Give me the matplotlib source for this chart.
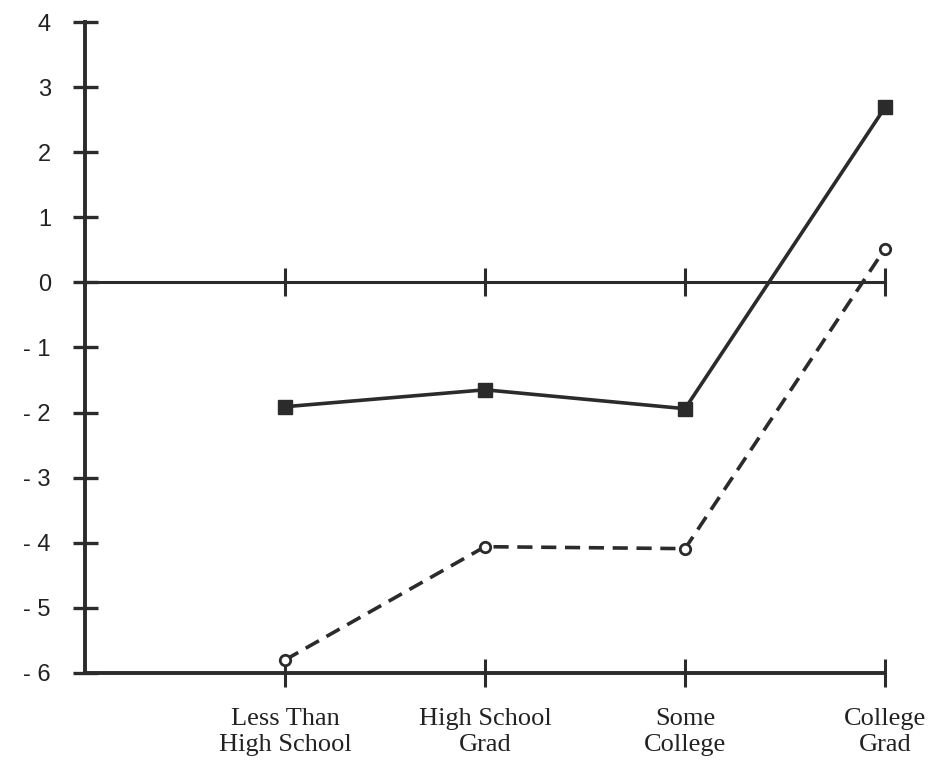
import matplotlib

matplotlib.use("Agg")
import matplotlib.pyplot as plt

categories = ["Less Than\nHigh School", "High School\nGrad", "Some\nCollege", "College\nGrad"]
x_pos = [1, 2, 3, 4]
solid_values = [-1.91, -1.65, -1.94, 2.69]
dashed_values = [-5.80, -4.06, -4.09, 0.52]
y_ticks = [4, 3, 2, 1, 0, -1, -2, -3, -4, -5, -6]
y_tick_labels = ["4", "3", "2", "1", "0", "- 1", "- 2", "- 3", "- 4", "- 5", "- 6"]

ink = "#2b2b2b"

fig = plt.figure(figsize=(9.43, 7.67), dpi=100)
ax = fig.add_axes([0.0901, 0.1226, 0.9015, 0.8487])
ax.set_xlim(0, 4.25)
ax.set_ylim(-6, 4)

ax.plot(x_pos, solid_values, color=ink, lw=2.6, marker="s", ms=9.5,
        mfc=ink, mec=ink, clip_on=False, zorder=3)
ax.plot(x_pos, dashed_values, color=ink, lw=2.6, dashes=(4.2, 2.4),
        marker="o", ms=7.5, mfc="white", mec=ink, mew=2.0, clip_on=False, zorder=3)

# axis frame: left axis, bottom axis, and the zero line carrying its own ticks
ax.spines["right"].set_visible(False)
ax.spines["left"].set_bounds(-6, 4)
ax.spines["left"].set_linewidth(2.8)
ax.spines["left"].set_color(ink)
ax.spines["bottom"].set_bounds(0, 4)
ax.spines["bottom"].set_linewidth(2.8)
ax.spines["bottom"].set_color(ink)
ax.spines["top"].set_position(("data", 0))
ax.spines["top"].set_bounds(0, 4)
ax.spines["top"].set_linewidth(2.2)
ax.spines["top"].set_color(ink)

ax.set_yticks(y_ticks)
ax.set_yticklabels(y_tick_labels, fontsize=17, family="Liberation Sans", color="#222222")
ax.set_xticks(x_pos)
ax.set_xticklabels(categories, fontsize=19, family="Liberation Serif", color="#222222",
                   linespacing=1.25)
ax.tick_params(axis="y", direction="inout", length=18, width=2.4, color=ink, pad=15.5)
ax.tick_params(axis="x", direction="inout", length=20, width=2.2, color=ink, pad=15,
               top=True, labeltop=False)

fig.savefig("out.png", dpi=100, facecolor="white")
plt.close(fig)
